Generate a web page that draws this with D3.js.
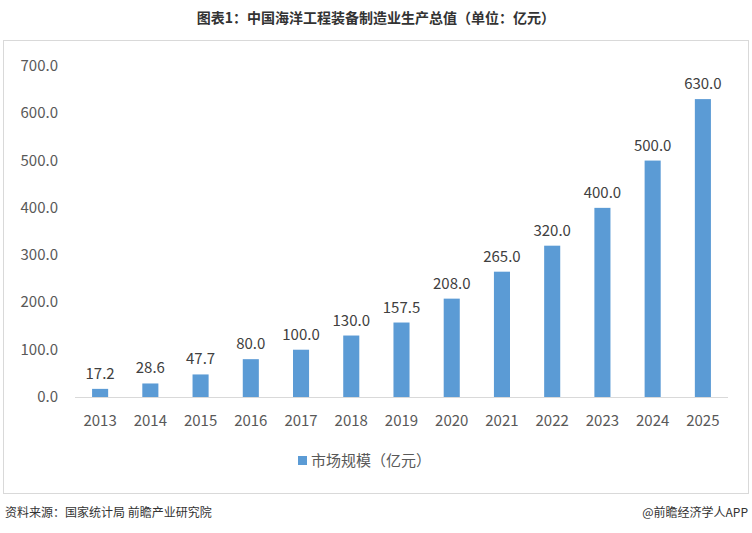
<!DOCTYPE html>
<html><head><meta charset="utf-8">
<script src="https://cdn.jsdelivr.net/npm/d3@7"></script>
<style>body{margin:0;background:#fff}</style>
</head><body>
<svg width="752" height="533"></svg>
<script>
var years = ["2013","2014","2015","2016","2017","2018","2019","2020","2021","2022","2023","2024","2025"];
var values = [17.2, 28.6, 47.7, 80.0, 100.0, 130.0, 157.5, 208.0, 265.0, 320.0, 400.0, 500.0, 630.0];
var yTicks = [0, 100, 200, 300, 400, 500, 600, 700];

var svg = d3.select("svg");
var font = "'Noto Sans CJK SC', 'Noto Sans', sans-serif";

// title
svg.append("text").attr("x", 376).attr("y", 23).attr("text-anchor", "middle")
    .style("font-family", font).style("font-weight", "bold").style("font-size", "14px").style("fill", "#333")
    .text("图表1：中国海洋工程装备制造业生产总值（单位：亿元）");

// frame
svg.append("rect").attr("x", 3.5).attr("y", 40.5).attr("width", 745).attr("height", 453)
    .attr("fill", "none").attr("stroke", "#d9d9d9");

var x = d3.scaleBand().domain(years).range([75, 728]).paddingInner(0.68).paddingOuter(0.34);
var y = d3.scaleLinear().domain([0, 700]).range([397, 66]);

// y axis labels
svg.selectAll(".yt").data(yTicks).enter().append("text")
    .attr("x", 58).attr("y", function (d) { return y(d) + 5; })
    .attr("text-anchor", "end").style("font-family", font).style("font-size", "15px").style("fill", "#595959")
    .text(function (d) { return d.toFixed(1); });

// bars
svg.selectAll(".bar").data(values).enter().append("rect")
    .attr("x", function (d, i) { return x(years[i]); })
    .attr("y", function (d) { return y(d); })
    .attr("width", x.bandwidth())
    .attr("height", function (d) { return y(0) - y(d); })
    .attr("fill", "#5b9bd5");

// value labels
svg.selectAll(".vl").data(values).enter().append("text")
    .attr("x", function (d, i) { return x(years[i]) + x.bandwidth() / 2; })
    .attr("y", function (d) { return y(d) - 10; })
    .attr("text-anchor", "middle").style("font-family", font).style("font-size", "15px").style("fill", "#404040")
    .text(function (d) { return d.toFixed(1); });

// x axis
svg.append("line").attr("x1", 75).attr("x2", 728).attr("y1", 397.5).attr("y2", 397.5)
    .attr("stroke", "#d9d9d9");
svg.selectAll(".xt").data(years).enter().append("text")
    .attr("x", function (d) { return x(d) + x.bandwidth() / 2; })
    .attr("y", 426).attr("text-anchor", "middle")
    .style("font-family", font).style("font-size", "15px").style("fill", "#595959")
    .text(function (d) { return d; });

// legend
svg.append("rect").attr("x", 298).attr("y", 456).attr("width", 9).attr("height", 9).attr("fill", "#5b9bd5");
svg.append("text").attr("x", 311).attr("y", 466)
    .style("font-family", font).style("font-size", "15px").style("fill", "#595959")
    .text("市场规模（亿元）");

// footer
svg.append("text").attr("x", 5).attr("y", 517)
    .style("font-family", font).style("font-size", "12px").style("fill", "#333")
    .text("资料来源：国家统计局  前瞻产业研究院");
svg.append("text").attr("x", 748).attr("y", 517).attr("text-anchor", "end")
    .style("font-family", font).style("font-size", "12px").style("fill", "#333")
    .text("@前瞻经济学人APP");
</script>
</body></html>
